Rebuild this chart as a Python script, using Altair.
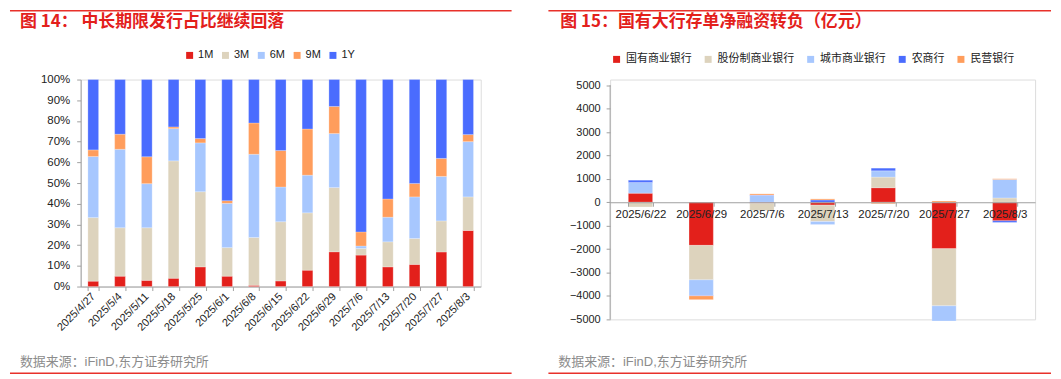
import altair as alt
import pandas as pd

# ---------------- data: left panel (share of issuance by tenor, %) ----------------
dates_l = ["2025/4/27", "2025/5/4", "2025/5/11", "2025/5/18", "2025/5/25", "2025/6/1",
           "2025/6/8", "2025/6/15", "2025/6/22", "2025/6/29", "2025/7/6", "2025/7/13",
           "2025/7/20", "2025/7/27", "2025/8/3"]
terms = ["1M", "3M", "6M", "9M", "1Y"]
share_1m = [2.6, 5.0, 3.0, 4.0, 9.5, 5.0, 0.6, 2.7, 7.9, 16.8, 15.2, 9.5, 10.7, 16.7, 27.1]
share_3m = [30.7, 23.4, 25.4, 56.7, 36.3, 13.8, 23.1, 28.6, 27.7, 31.0, 3.2, 12.1, 12.5, 15.0, 16.2]
share_6m = [29.5, 37.9, 21.3, 15.6, 23.6, 21.4, 40.2, 16.8, 18.2, 26.1, 1.2, 11.9, 20.1, 21.5, 26.7]
share_9m = [3.2, 7.3, 13.0, 0.8, 2.1, 1.3, 15.1, 17.6, 22.3, 13.1, 6.8, 8.8, 6.5, 8.7, 3.4]
share_1y = [34.0, 26.4, 37.3, 22.9, 28.5, 58.5, 21.0, 34.3, 23.9, 13.0, 73.6, 57.7, 50.2, 38.1, 26.6]

# ---------------- data: right panel (net financing, 亿元) ----------------
dates_r = ["2025/6/22", "2025/6/29", "2025/7/6", "2025/7/13", "2025/7/20", "2025/7/27", "2025/8/3"]
banks = ["国有商业银行", "股份制商业银行", "城市商业银行", "农商行", "民营银行"]
net_state = [390, -1840, -40, -120, 623, -1980, -790]
net_joint = [-200, -1470, -310, -700, 453, -2440, 185]
net_city = [460, -667, 290, -130, 269, -650, 790]
net_rural = [100, -20, 20, 100, 113, 0, -70]
net_private = [0, -160, 50, 45, -60, 55, 30]
y_ticks_r = list(range(-5000, 5001, 1000))

title_l = "图 14：  中长期限发行占比继续回落"
title_r = "图 15：国有大行存单净融资转负（亿元）"
source = "数据来源：iFinD,东方证券研究所"

RED = "#E3201B"
BEIGE = "#DDD3BD"
LBLUE = "#A7C7FE"
ORANGE = "#FF9D5C"
BLUE = "#4A6CFE"
LINE_RED = "#E8312A"
AXIS_GREY = "#A0A0A0"
FONT = "Liberation Sans, Noto Sans CJK SC, sans-serif"
CJK = "Noto Sans CJK SC, sans-serif"

rows = []
for i, d in enumerate(dates_l):
    for j, (t, vals) in enumerate(zip(terms, [share_1m, share_3m, share_6m, share_9m, share_1y])):
        rows.append({"date": d, "term": t, "k": j, "value": vals[i]})
df_l = pd.DataFrame(rows)

rows = []
for i, d in enumerate(dates_r):
    for j, (b, vals) in enumerate(zip(banks, [net_state, net_joint, net_city, net_rural, net_private])):
        rows.append({"date": d, "bank": b, "k": j, "value": vals[i]})
df_r = pd.DataFrame(rows)


def deco(title, tx, ty, lx1, lx2, ly_top, ly_bot, sx, sy):
    one = pd.DataFrame({"t": [title], "s": [source]})
    top_line = alt.Chart(one).mark_rule(color=LINE_RED, strokeWidth=1.5).encode(
        x=alt.value(lx1), x2=alt.value(lx2), y=alt.value(ly_top))
    bot_line = alt.Chart(one).mark_rule(color=LINE_RED, strokeWidth=1.5).encode(
        x=alt.value(lx1), x2=alt.value(lx2), y=alt.value(ly_bot))
    ttl = alt.Chart(one).mark_text(align="left", baseline="middle", font=CJK, fontSize=17,
                                   fontWeight="bold", color=RED).encode(
        text="t:N", x=alt.value(tx), y=alt.value(ty))
    src = alt.Chart(one).mark_text(align="left", baseline="middle", font=FONT, fontSize=13,
                                   color="#8C8C8C").encode(
        text="s:N", x=alt.value(sx), y=alt.value(sy))
    return [top_line, bot_line, ttl, src]


axis_common = dict(domainColor=AXIS_GREY, tickColor=AXIS_GREY, labelColor="#222222",
                   labelFont=FONT, grid=False, title=None)

bars_l = alt.Chart(df_l).mark_bar(stroke="white", strokeWidth=0.4, strokeOpacity=0.6).encode(
    x=alt.X("date:N", sort=dates_l,
            scale=alt.Scale(paddingInner=0.6, paddingOuter=0.27),
            axis=alt.Axis(labelAngle=-45, labelAlign="right", labelBaseline="middle",
                          labelFontSize=11, labelPadding=4, tickSize=4, tickBand="extent",
                          labelOverlap=False, **axis_common)),
    y=alt.Y("value:Q", stack="normalize", scale=alt.Scale(domain=[0, 1]),
            axis=alt.Axis(format=".0%", values=[i / 10 for i in range(11)], labelFontSize=11.5,
                          tickSize=4, labelPadding=7, labelOverlap=False, **axis_common)),
    color=alt.Color("term:N", scale=alt.Scale(domain=terms, range=[RED, BEIGE, LBLUE, ORANGE, BLUE]),
                    legend=alt.Legend(title=None, orient="none", legendX=104, legendY=-30,
                                      direction="horizontal", symbolType="square", symbolSize=49,
                                      symbolStrokeWidth=0, labelFontSize=11, labelFont=FONT,
                                      labelColor="#222222", columnPadding=6, labelOffset=3)),
    order=alt.Order("k:Q"),
)

left = alt.layer(bars_l, *deco(title_l, -61, -58, -71, 433, -69, 295, -61, 284)).properties(
    width=402, height=208)

y_scale_r = alt.Scale(domain=[-5000, 5242], nice=False)
y_axis_r = alt.Axis(format="d", values=y_ticks_r, labelFontSize=11, domain=False,
                    tickSize=4, labelPadding=6, labelOverlap=False, **axis_common)

bars_r = alt.Chart(df_r).mark_bar(stroke="white", strokeWidth=0.4, strokeOpacity=0.6).encode(
    x=alt.X("date:N", sort=dates_r,
            scale=alt.Scale(paddingInner=0.6, paddingOuter=0.3),
            axis=alt.Axis(labelAngle=0, labelFontSize=11.5, labelPadding=2, tickSize=4,
                          tickBand="extent", offset=-117.7, zindex=1, labelOverlap=False,
                          **axis_common)),
    y=alt.Y("value:Q", stack="zero", scale=y_scale_r, axis=y_axis_r),
    color=alt.Color("bank:N", scale=alt.Scale(domain=banks, range=[RED, BEIGE, LBLUE, BLUE, ORANGE]),
                    legend=alt.Legend(title=None, orient="none", legendX=1, legendY=-26,
                                      direction="horizontal", symbolType="square", symbolSize=49,
                                      symbolStrokeWidth=0, labelFontSize=11, labelFont=FONT,
                                      labelColor="#222222", columnPadding=11, labelOffset=4)),
    order=alt.Order("k:Q"),
)

yline_r = alt.Chart(pd.DataFrame({"value": [y_ticks_r[0]], "hi": [y_ticks_r[-1]]})).mark_rule(
    color=AXIS_GREY, strokeWidth=1).encode(
    x=alt.value(0), y=alt.Y("value:Q", scale=y_scale_r, axis=y_axis_r), y2="hi:Q")

right = alt.layer(bars_r, yline_r, *deco(title_r, -50, -58, -62, 443, -69, 295, -52, 284)).properties(
    width=427, height=241)

chart = alt.hconcat(left, right, spacing=33, padding=0).resolve_scale(
    color="independent").configure_view(stroke=None).configure(background="white")

chart.save("out.html", embed_options={"renderer": "svg", "actions": False})
